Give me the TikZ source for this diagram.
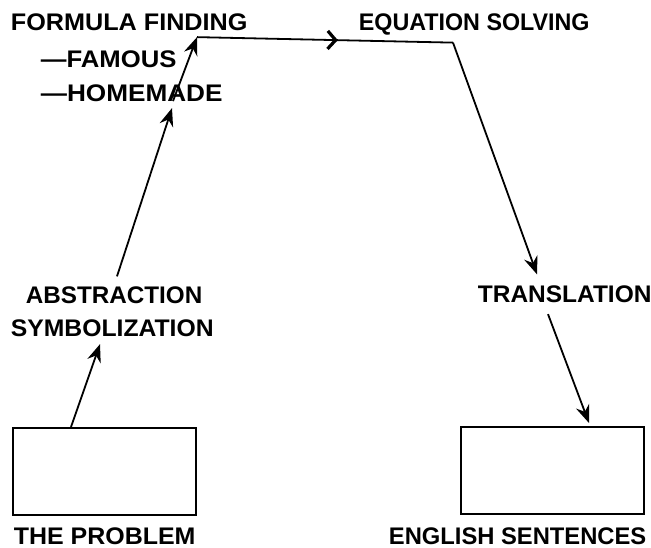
\documentclass[tikz,border=0pt]{standalone}
\usepackage{graphicx}
\usepackage{fontspec}
\setmainfont{Liberation Sans}
\usetikzlibrary{positioning, arrows.meta, decorations.markings}

\newcommand\wider[2]{\scalebox{#1}[1]{#2}}

\begin{document}
\begin{tikzpicture}[
    x=1pt,
    y=-1pt,
    >={Stealth[length=18pt, width=14pt, inset=6pt]},
    line width=1.8pt,
    every node/.style={
        inner sep=0pt,
        font=\fontsize{24}{28}\selectfont\bfseries,
    },
    txt/.style={anchor=base west},
    sheet/.style={
        draw,
        line width=1.9pt,
        anchor=north west,
        minimum width=183pt,
        minimum height=87pt,
    },
    midarrow/.style={
        postaction={decorate},
        decoration={markings,
            mark=at position 0.55 with {\arrow{Straight Barb[length=8pt, width=18pt, line width=3.2pt]}}},
    },
]
\useasboundingbox (0,0) rectangle (651,548);

% --- Steps ---
\node[txt] (ff)       at (10,31)  {\wider{1.05}{FORMULA FINDING}};
\node[txt] (famous)   at (40,68)  {\wider{1.07}{—FAMOUS}};
\node[txt] (homemade) at (40,102) {\wider{1.09}{—HOMEMADE}};
\node[txt] (eq)       at (358,31) {\wider{0.97}{EQUATION SOLVING}};
\node[txt] (abs)      at (25,303) {\wider{1.01}{ABSTRACTION}};
\node[txt] (sym)      at (10,337) {\wider{1.03}{SYMBOLIZATION}};
\node[txt] (trans)    at (477,302) {\wider{1.02}{TRANSLATION}};

% --- Boxes ---
\node[sheet] (probbox) at (12,427)  {};
\node[sheet] (engbox)  at (460,426) {};
\node[txt] (probtxt) at (13,544)  {\wider{1.04}{THE PROBLEM}};
\node[txt] (engtxt)  at (388,544) {\wider{0.99}{ENGLISH SENTENCES}};

% --- Arrows ---
\draw[->] ([xshift=59]probbox.north west) -- ([xshift=90, yshift=-6]sym.south west);
\draw[->] ([xshift=92, yshift=9]abs.north west) -- ([xshift=132, yshift=-5]homemade.south west);
\draw[->] ([xshift=133, yshift=2]homemade.south west) -- ([xshift=187, yshift=-5]ff.south west);
\draw[midarrow] ([xshift=187, yshift=-5]ff.south west) -- ([xshift=95, yshift=-6]eq.south west);
\draw[->] ([xshift=95, yshift=-6]eq.south west) -- ([xshift=60, yshift=10]trans.north west);
\draw[->] ([xshift=71, yshift=-11]trans.south west) -- ([xshift=129, yshift=3]engbox.north west);

\end{tikzpicture}
\end{document}
